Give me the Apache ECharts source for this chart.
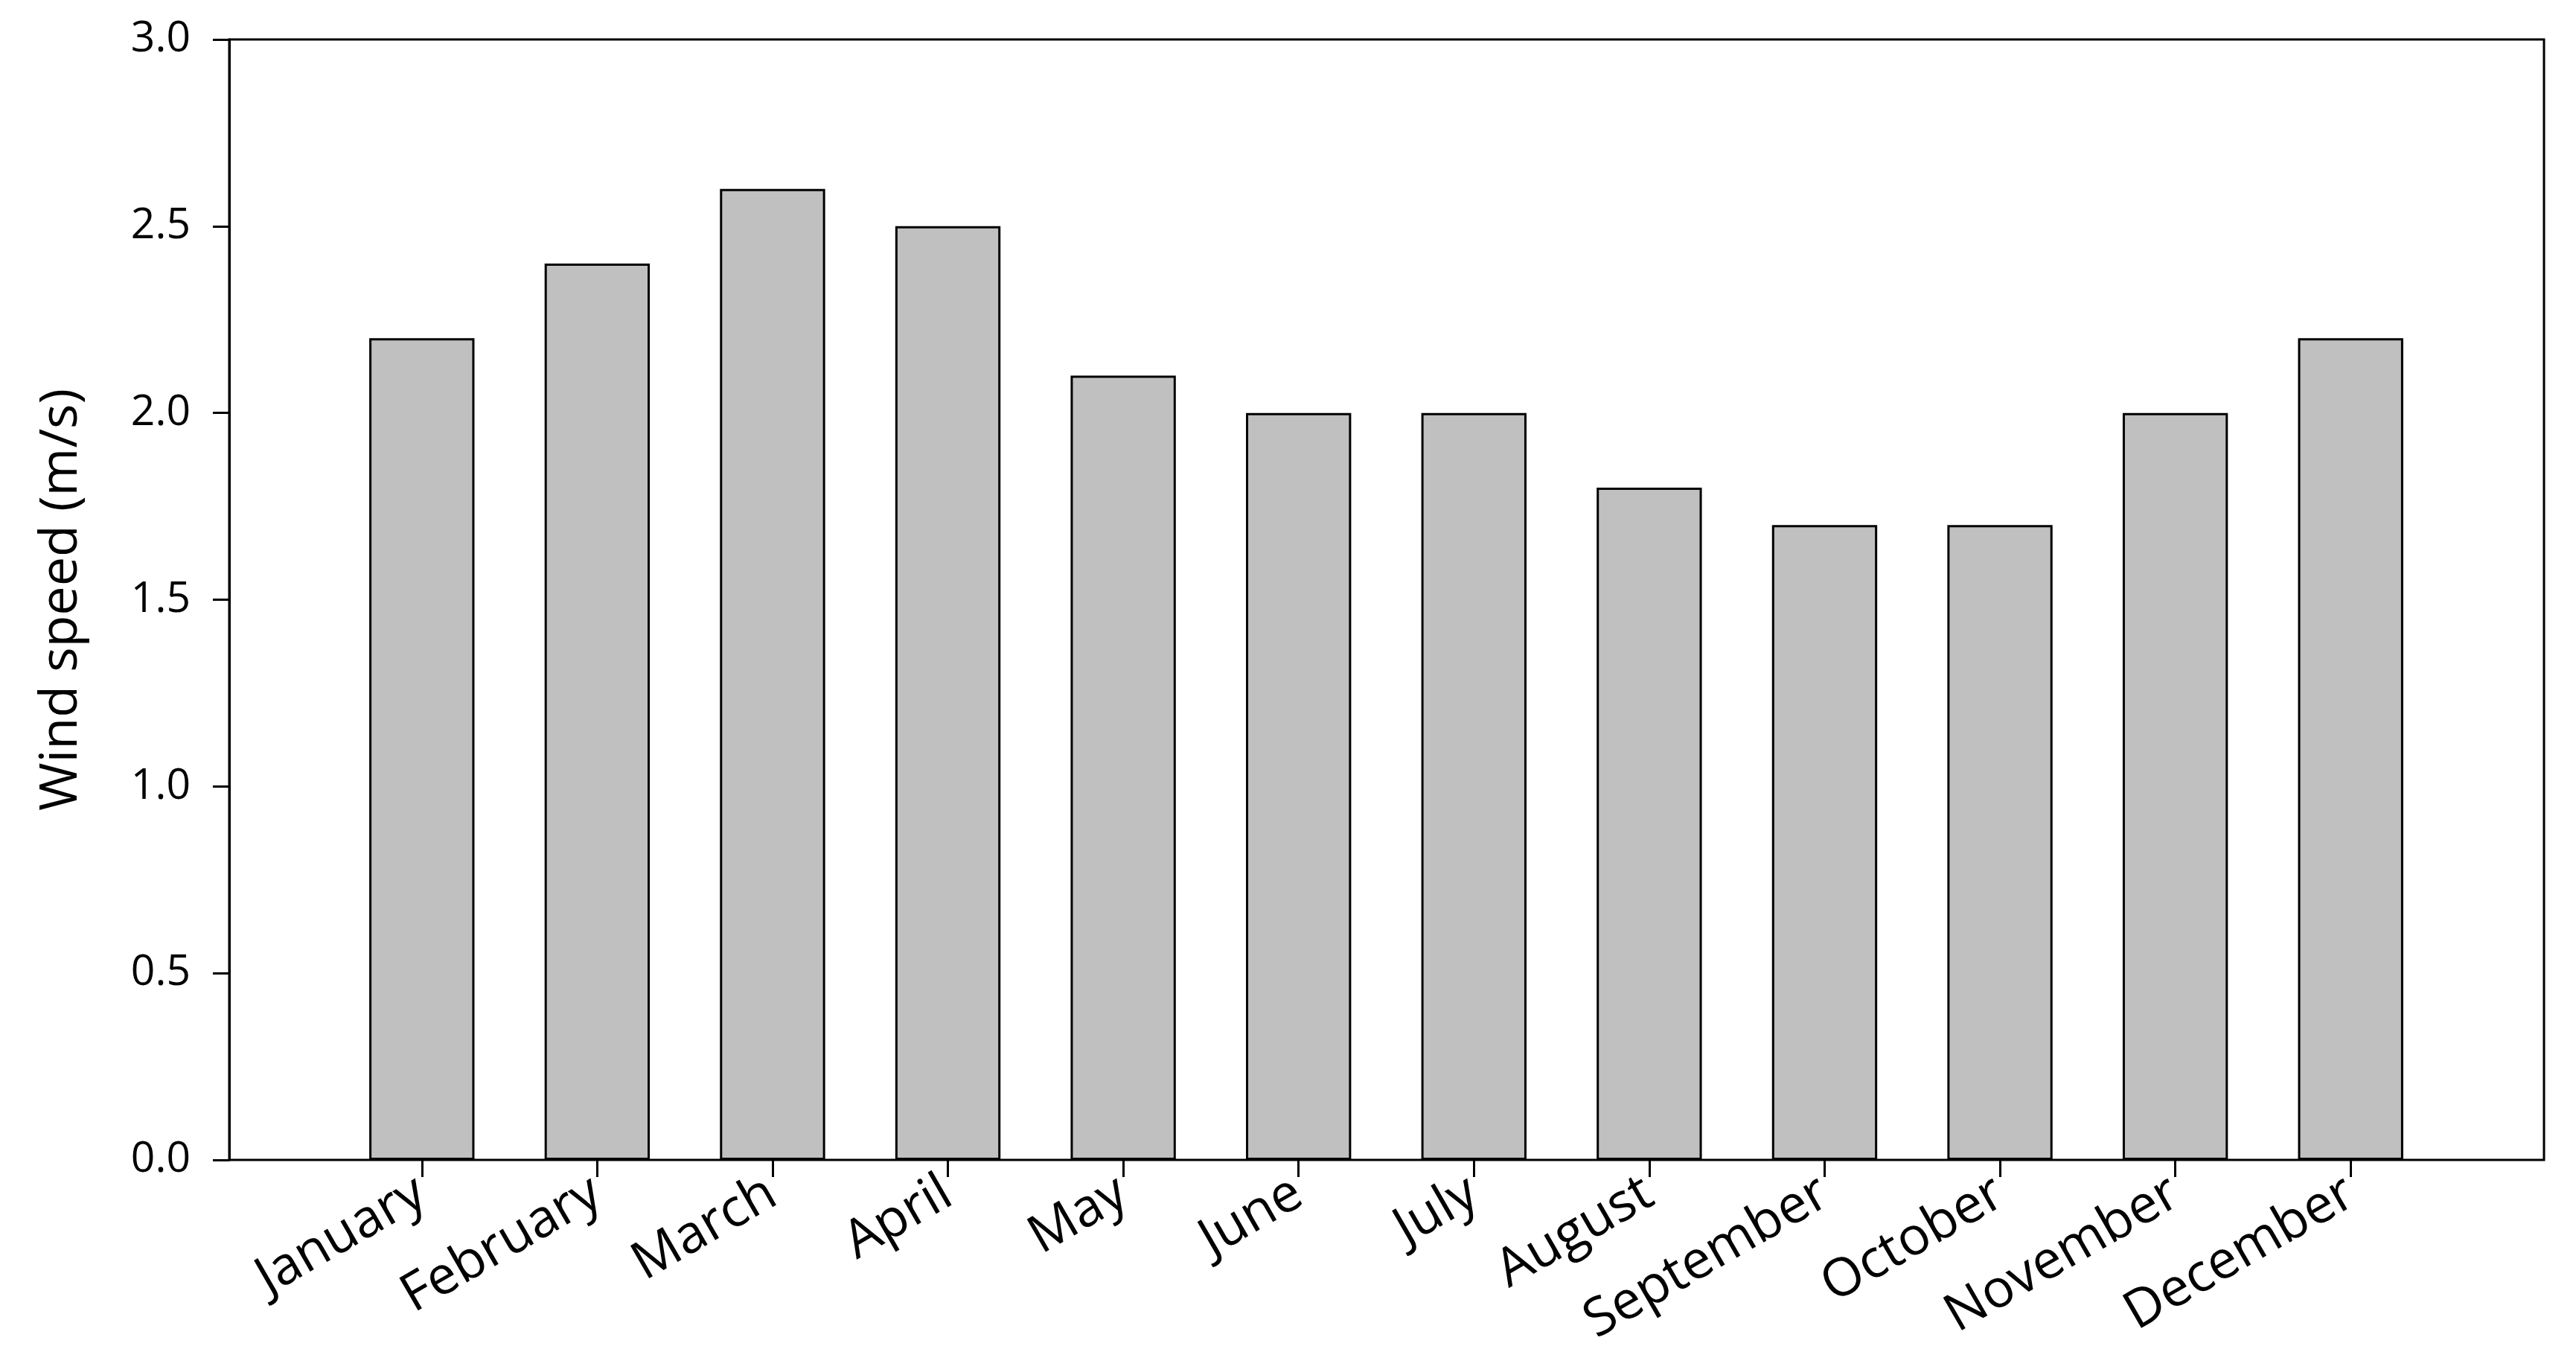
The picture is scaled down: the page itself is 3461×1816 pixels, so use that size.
<!DOCTYPE html>
<html>
<head>
<meta charset="utf-8" />
<script src="https://cdn.jsdelivr.net/npm/echarts@6/dist/echarts.min.js"></script>
<style>
  html, body { margin: 0; padding: 0; background: #fff; }
  #chart { width: 3461px; height: 1816px; }
</style>
</head>
<body>
<div id="chart"></div>
<script>
// monthly mean wind speed
var months = ["January", "February", "March", "April", "May", "June",
  "July", "August", "September", "October", "November", "December"];
var windSpeed = [2.2, 2.4, 2.6, 2.5, 2.1, 2.0, 2.0, 1.8, 1.7, 1.7, 2.0, 2.2];
var yMin = 0;
var yMax = 3;
var yStep = 0.5;

var myChart = echarts.init(document.getElementById("chart"));
var option = {
  backgroundColor: "#fff",
  animation: false,
  grid: [
    // frame
    { left: 308, right: 43, top: 53, bottom: 258, show: true,
      borderColor: "#000", borderWidth: 3, backgroundColor: "transparent" },
    // bars, inset so the first/last bars sit away from the frame
    { left: 449, right: 185, top: 53, bottom: 258 },
  ],
  xAxis: [
    { gridIndex: 0, type: "value", min: 0, max: 1, show: false },
    {
      gridIndex: 1,
      type: "category",
      data: months,
      axisLine: { show: false },
      axisTick: {
        show: true,
        alignWithLabel: true,
        length: 23,
        lineStyle: { color: "#000", width: 3 },
      },
      axisLabel: {
        rotate: 30,
        interval: 0,
        margin: 40,
        color: "#000",
        fontSize: 71,
        fontFamily: "Open Sans",
      },
    },
  ],
  yAxis: [
    {
      gridIndex: 0,
      type: "value",
      min: yMin,
      max: yMax,
      interval: yStep,
      name: "Wind speed (m/s)",
      nameLocation: "middle",
      nameGap: 190,
      nameTextStyle: { color: "#000", fontSize: 70, fontFamily: "Open Sans" },
      splitLine: { show: false },
      axisLine: { show: true, lineStyle: { color: "#000", width: 3 } },
      axisTick: { show: true, length: 22, lineStyle: { color: "#000", width: 3 } },
      axisLabel: {
        margin: 52,
        color: "#000",
        fontSize: 57,
        fontFamily: "Open Sans",
        formatter: function (v) {
          return v.toFixed(1);
        },
      },
    },
    { gridIndex: 1, type: "value", min: yMin, max: yMax, show: false },
  ],
  series: [
    {
      name: "Wind speed",
      type: "bar",
      xAxisIndex: 1,
      yAxisIndex: 1,
      barCategoryGap: "40%",
      data: windSpeed,
      itemStyle: { color: "#c0c0c0", borderColor: "#000", borderWidth: 3 },
    },
  ],
};
myChart.setOption(option);
</script>
</body>
</html>
